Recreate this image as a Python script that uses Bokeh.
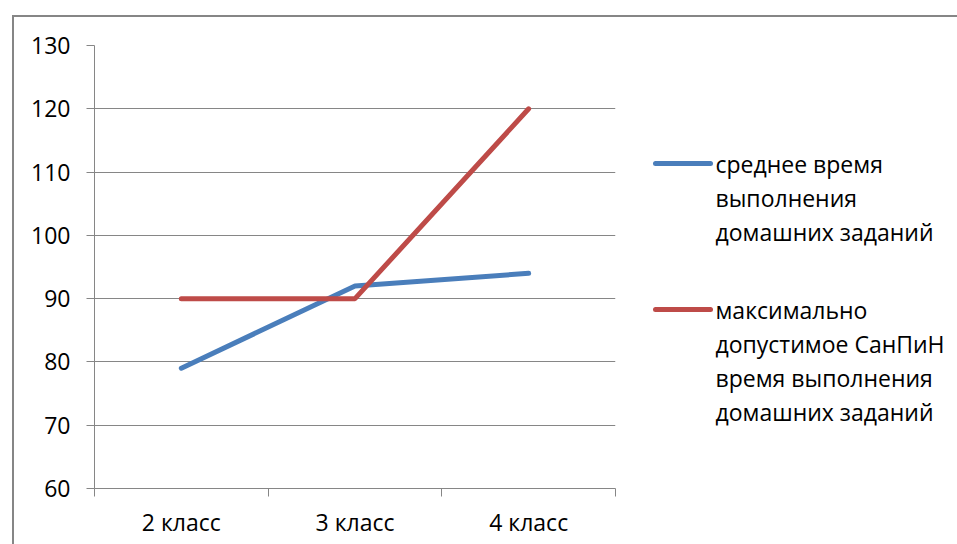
from bokeh.plotting import figure
from bokeh.layouts import row
from bokeh.models import FixedTicker, InlineStyleSheet, Range1d
from bokeh.core.properties import value
from bokeh.embed import file_html
from bokeh.resources import INLINE

# ---- data ----
categories = ["2 класс", "3 класс", "4 класс"]
avg_time = [79, 92, 94]
max_sanpin = [90, 90, 120]
y_ticks = [60, 70, 80, 90, 100, 110, 120, 130]
legend_avg = ["среднее время", "выполнения", "домашних заданий"]
legend_max = ["максимально", "допустимое СанПиН", "время выполнения", "домашних заданий"]

BLUE = "#4A7EBB"
RED = "#BE4B48"
GREY = "#868686"
FONT = "Open Sans"
FS = "23px"
LW = 5
TOP, BOTTOM = 45, 56
H = 544

xs = [i + 0.5 for i in range(len(categories))]

# ---------------- main chart ----------------
p = figure(width=640, height=H, x_range=(0, len(categories)), y_range=(y_ticks[0], y_ticks[-1]),
           output_backend="svg", toolbar_location=None,
           min_border_left=94, min_border_right=25, min_border_top=TOP, min_border_bottom=BOTTOM)
p.outline_line_color = None
p.background_fill_color = "white"
p.border_fill_color = "white"
p.stylesheets = [InlineStyleSheet(css="""
:host::after { content: ''; position: absolute; left: 12px; top: 15px; right: 0; bottom: 0;
  border-left: 2px solid #868686; border-top: 2px solid #868686; pointer-events: none; }
""")]

p.yaxis.ticker = FixedTicker(ticks=y_ticks)
p.yaxis.axis_line_color = GREY
p.yaxis.major_tick_line_color = GREY
p.yaxis.major_tick_out = 8
p.yaxis.major_tick_in = 0
p.yaxis.minor_tick_line_color = None
p.yaxis.major_label_text_font = FONT
p.yaxis.major_label_text_font_size = FS
p.yaxis.major_label_text_color = "black"
p.yaxis.major_label_standoff = 16

p.xaxis.ticker = FixedTicker(ticks=xs, minor_ticks=list(range(len(categories) + 1)))
p.xaxis.major_label_overrides = {x: c for x, c in zip(xs, categories)}
p.xaxis.axis_line_color = GREY
p.xaxis.major_tick_line_color = None
p.xaxis.major_tick_out = 0
p.xaxis.major_tick_in = 0
p.xaxis.minor_tick_line_color = GREY
p.xaxis.minor_tick_out = 8
p.xaxis.minor_tick_in = 0
p.xaxis.major_label_text_font = FONT
p.xaxis.major_label_text_font_size = FS
p.xaxis.major_label_text_color = "black"
p.xaxis.major_label_standoff = 9

p.xgrid.grid_line_color = None
p.ygrid.grid_line_color = GREY
p.ygrid.grid_line_width = 1

p.line(xs, avg_time, line_color=BLUE, line_width=LW, line_cap="round", line_join="round")
p.line(xs, max_sanpin, line_color=RED, line_width=LW, line_cap="round", line_join="round")

# ---------------- legend panel (frame aligned with main frame; y in page pixels, downward) ----------------
LEG_W = 317
q = figure(width=LEG_W, height=H, x_range=Range1d(0, LEG_W), y_range=Range1d(H - BOTTOM, TOP),
           output_backend="svg", toolbar_location=None, x_axis_type=None, y_axis_type=None,
           min_border_left=0, min_border_right=0, min_border_top=TOP, min_border_bottom=BOTTOM)
q.outline_line_color = None
q.grid.visible = False
q.background_fill_color = "white"
q.border_fill_color = "white"
q.stylesheets = [InlineStyleSheet(css="""
:host::after { content: ''; position: absolute; left: 0; top: 15px; right: 0; bottom: 0;
  border-top: 2px solid #868686; pointer-events: none; }
""")]

LINE_X0, LINE_X1, TEXT_X, PITCH = 15, 70, 75, 34
for lines, color, y0 in ((legend_avg, BLUE, 163), (legend_max, RED, 309)):
    q.line([LINE_X0, LINE_X1], [y0, y0], line_color=color, line_width=LW, line_cap="round")
    q.text(x=[TEXT_X] * len(lines), y=[y0 + PITCH * i for i in range(len(lines))], text=lines,
           text_font=value(FONT), text_font_size=value(FS), text_color="black",
           text_baseline="middle", text_align="left")

layout = row(p, q, spacing=0)
open("out.html", "w").write(file_html(layout, INLINE))
